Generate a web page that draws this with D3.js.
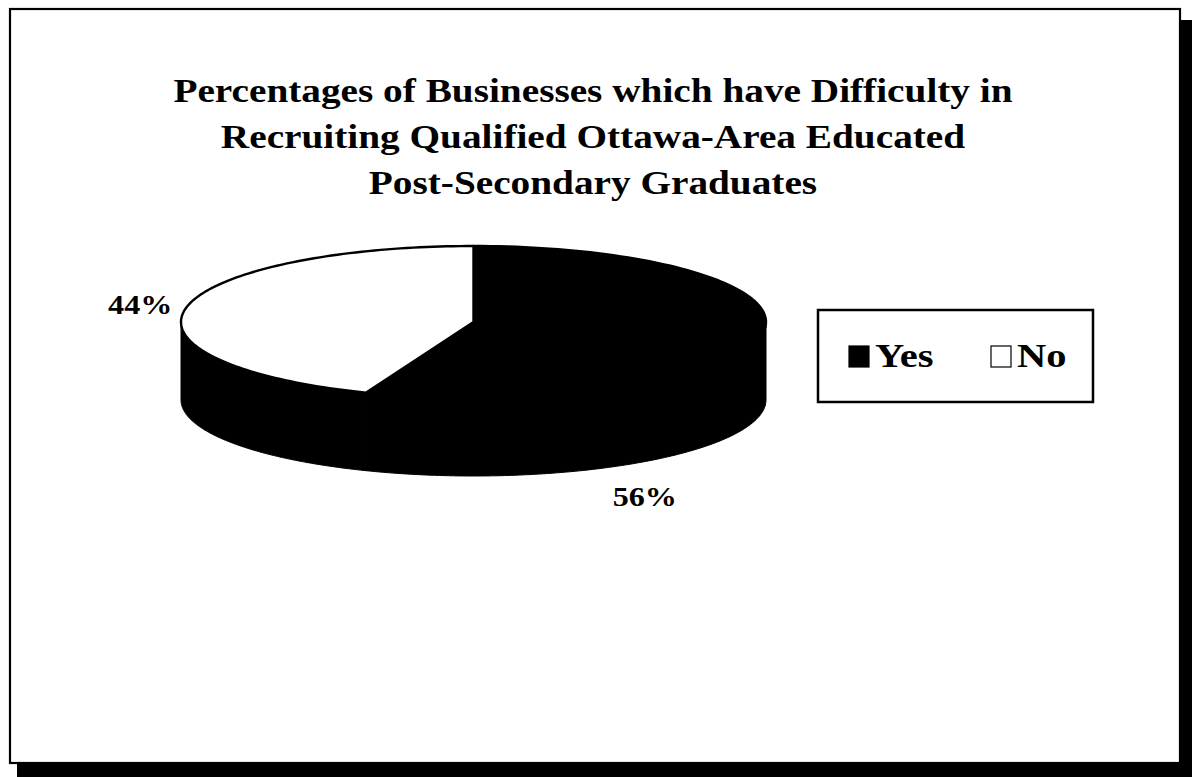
<!DOCTYPE html>
<html>
<head>
<meta charset="utf-8">
<script src="https://cdn.jsdelivr.net/npm/d3@7"></script>
<style>
  html, body { margin: 0; padding: 0; background: #fff; }
  svg { display: block; }
  text { font-family: "Liberation Serif", "Times New Roman", serif; font-weight: bold; fill: #000; }
</style>
</head>
<body>
<svg id="chart" width="1192" height="777"></svg>
<script>
// Survey answers and their shares (percent)
const categories = ["Yes", "No"];
const shares = [56, 44];
const sliceFill = ["#000000", "#ffffff"];
const titleLines = [
  "Percentages of Businesses which have Difficulty in",
  "Recruiting Qualified Ottawa-Area Educated",
  "Post-Secondary Graduates"
];

const svg = d3.select("#chart");

// The typeface is set slightly wide: stretch each text run horizontally
const WIDEN = 1.19;
function widen(sel) {
  sel.each(function () {
    const len = this.getComputedTextLength();
    d3.select(this)
      .attr("textLength", len * WIDEN)
      .attr("lengthAdjust", "spacingAndGlyphs");
  });
}

// Frame with drop shadow
const frame = { x: 10, y: 9, w: 1170, h: 754 };
svg.append("rect")
  .attr("x", 17).attr("y", 20)
  .attr("width", 1175).attr("height", 757)
  .attr("fill", "#000");
svg.append("rect")
  .attr("x", frame.x).attr("y", frame.y)
  .attr("width", frame.w).attr("height", frame.h)
  .attr("fill", "#fff").attr("stroke", "#000").attr("stroke-width", 2.2);

// Title
svg.append("g").selectAll("text")
  .data(titleLines)
  .join("text")
  .attr("text-anchor", "middle")
  .attr("x", 593)
  .attr("y", (d, i) => 102 + i * 46)
  .style("font-size", "33px")
  .text(d => d)
  .call(widen);

// 3D pie geometry: top face ellipse and wall depth
const cx = 473.5, cy = 322, rx = 292.5, ry = 76, depth = 78;
const pie = d3.pie().sort(null).value(d => d.value);
const arcs = pie(categories.map((c, i) => ({ name: c, value: shares[i], fill: sliceFill[i] })));

// angle convention from d3.pie: 0 at 12 o'clock, clockwise
const px = a => cx + rx * Math.sin(a);
const py = (a, dz = 0) => cy - ry * Math.cos(a) + dz;
const line = d3.line();
const samples = (a0, a1, n = 120) => d3.range(n + 1).map(k => a0 + (a1 - a0) * k / n);

// Side wall (front half only: angles between PI/2 and 3PI/2)
const g = svg.append("g");
arcs.forEach(d => {
  const a0 = Math.max(d.startAngle, Math.PI / 2);
  const a1 = Math.min(d.endAngle, 3 * Math.PI / 2);
  if (a1 <= a0) return;
  const top = samples(a0, a1).map(a => [px(a), py(a)]);
  const bottom = samples(a1, a0).map(a => [px(a), py(a, depth)]);
  g.append("path")
    .attr("d", line(top.concat(bottom)) + "Z")
    .attr("fill", "#000")
    .attr("stroke", "#000")
    .attr("stroke-width", 1);
});

// Top faces
arcs.forEach(d => {
  const pts = [[cx, cy]].concat(samples(d.startAngle, d.endAngle).map(a => [px(a), py(a)]));
  g.append("path")
    .attr("d", line(pts) + "Z")
    .attr("fill", d.data.fill)
    .attr("stroke", "#000")
    .attr("stroke-width", 2.4)
    .attr("stroke-linejoin", "round");
});

// Percentage labels
arcs.forEach((d, i) => {
  let lx, ly;
  if (i === 1) {
    const mid = (d.startAngle + d.endAngle) / 2;
    lx = cx + rx * 1.16 * Math.sin(mid);
    ly = cy - ry * 1.16 * Math.cos(mid) + 9;
  } else {
    const a = d.startAngle + (d.endAngle - d.startAngle) * 0.715;
    lx = px(a);
    ly = py(a, depth) + 44;
  }
  svg.append("text")
    .attr("x", lx).attr("y", ly)
    .attr("text-anchor", "middle")
    .style("font-size", "27px")
    .text(d.data.value + "%")
    .call(widen);
});

// Legend
const legend = svg.append("g");
legend.append("rect")
  .attr("x", 818).attr("y", 310).attr("width", 275).attr("height", 92)
  .attr("fill", "#fff").attr("stroke", "#000").attr("stroke-width", 2.5);
const legendX = d3.scalePoint().domain(categories).range([849, 991]);
categories.forEach((c, i) => {
  legend.append("rect")
    .attr("x", legendX(c)).attr("y", 346)
    .attr("width", 20).attr("height", 21)
    .attr("fill", sliceFill[i]).attr("stroke", "#000").attr("stroke-width", 1.2);
  legend.append("text")
    .attr("x", legendX(c) + 26).attr("y", 367)
    .style("font-size", "34px")
    .text(c)
    .call(widen);
});
</script>
</body>
</html>
